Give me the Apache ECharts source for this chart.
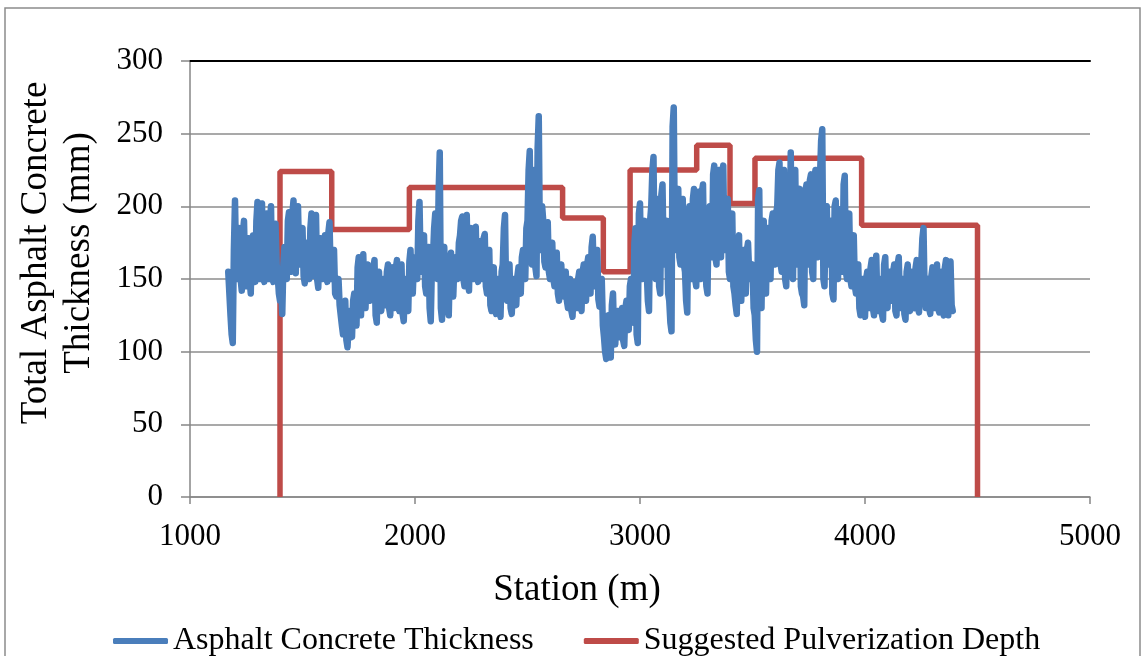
<!DOCTYPE html>
<html lang="en">
<head>
    <meta charset="UTF-8">
    <title>Asphalt Concrete Thickness</title>
    <script type="text/javascript" src="https://cdn.jsdelivr.net/npm/echarts@6/dist/echarts.min.js"></script>
    <style>
        html, body { margin: 0; padding: 0; background: #fff; }
        #main { width: 1143px; height: 656px; }
    </style>
</head>
<body>
<div id="main"></div>
<script type="text/javascript">
    // AC thickness, one reading every 5 m from station 1170
    var stationStart = 1170;
    var stationStep = 5;
    var thickness = [
        155,140,125,112,106,170,204,160,150,176,185,150,142,182,190,155,145,168,178,150,
        140,172,180,152,148,190,203,158,150,195,202,152,148,185,195,160,150,188,200,152,
        148,176,188,160,152,140,135,150,126,160,172,158,150,190,196,160,155,195,204,162,
        154,190,200,165,160,180,185,152,147,168,175,155,150,185,195,158,152,186,194,150,
        144,170,178,155,150,175,180,152,148,182,189,155,150,165,170,140,138,145,150,132,
        125,118,112,128,135,108,103,120,128,115,110,135,140,122,118,158,165,130,125,160,
        167,138,130,155,160,140,135,148,150,158,163,125,120,150,155,132,128,145,150,135,
        132,155,160,130,125,152,158,135,130,158,163,132,128,155,160,126,121,145,150,130,
        128,162,170,145,140,160,165,155,150,190,203,160,155,175,180,145,140,165,172,130,
        121,158,165,185,195,155,150,210,237,130,122,165,172,145,140,130,125,160,168,142,
        138,160,165,155,150,175,180,190,193,150,145,188,194,148,142,180,185,155,150,182,
        186,152,148,172,176,155,150,178,181,145,140,165,170,132,128,152,158,130,126,145,
        150,128,124,155,160,185,194,140,135,155,160,130,126,145,150,136,132,152,158,142,
        140,165,170,155,150,185,190,225,238,165,160,215,225,158,152,240,262,175,170,200,
        190,162,158,182,189,155,150,170,175,150,145,162,168,140,135,155,160,142,138,152,
        155,135,130,145,150,128,124,142,148,134,130,150,155,132,128,155,160,138,135,160,
        165,145,140,172,179,150,145,165,170,136,131,145,150,118,110,100,95,118,125,102,
        96,132,140,110,105,124,128,113,110,126,130,108,104,130,135,118,115,145,150,125,
        120,175,185,112,106,195,202,155,150,185,190,160,155,135,128,190,200,225,234,158,
        150,198,205,145,140,208,215,165,160,185,190,140,135,120,114,255,268,175,170,205,
        212,165,160,200,205,160,155,135,127,195,200,155,150,205,212,150,145,205,210,155,
        150,210,215,165,160,145,140,195,200,170,165,222,228,165,160,220,225,170,165,222,
        228,175,170,200,205,155,150,190,195,145,140,132,126,175,180,140,135,165,170,145,
        140,170,175,155,150,158,160,130,125,108,100,205,211,135,130,185,190,145,140,180,
        185,155,150,190,195,165,160,195,200,225,230,160,155,220,225,150,145,210,215,170,
        237,155,150,220,225,165,160,208,212,145,140,138,132,210,215,165,160,218,222,155,
        150,220,225,170,165,215,220,245,253,150,145,195,200,165,160,185,190,140,136,200,
        204,155,150,193,198,160,155,215,221,155,150,190,195,150,145,175,180,145,140,155,
        160,130,125,145,150,128,124,150,155,134,130,158,163,130,125,160,166,132,128,146,
        150,126,122,160,165,134,130,150,155,138,135,155,160,128,125,160,165,134,130,145,
        150,126,122,155,160,132,128,150,155,133,130,158,163,130,127,155,160,178,185,140,
        130,145,150,130,126,152,158,134,130,155,160,130,127,150,155,128,125,158,163,130,
        125,155,162,132,128
    ];

    // suggested pulverization depth (step line corners)
    var depthStation = [1400,1400,1630,1630,1975,1975,2656,2656,2837,2837,2956,2956,3252,3252,3400,3400,3511,3511,3985,3985,4500,4500];
    var depthValue   = [0,224,224,184,184,213,213,192,192,155,155,225,225,242,242,202,202,233,233,187,187,0];

    var xTicks = [1000, 2000, 3000, 4000, 5000];
    var yTicks = [0, 50, 100, 150, 200, 250, 300];

    var blueData = [];
    for (var i = 0; i < thickness.length; i++) {
        blueData.push([stationStart + i * stationStep, thickness[i]]);
    }
    var redData = [];
    for (var j = 0; j < depthStation.length; j++) {
        redData.push([depthStation[j], depthValue[j]]);
    }

    var font = '"Liberation Serif", "Times New Roman", serif';
    var myChart = echarts.init(document.getElementById('main'));
    var option = {
        backgroundColor: '#fff',
        animation: false,
        grid: { left: 190, right: 53, top: 61, bottom: 159 },
        legend: {
            data: ['Asphalt Concrete Thickness', 'Suggested Pulverization Depth'],
            left: 108,
            top: 620,
            icon: 'roundRect',
            itemWidth: 55,
            itemHeight: 6,
            itemGap: 50,
            textStyle: { fontFamily: font, fontSize: 32, color: '#000' }
        },
        xAxis: [
            {
                type: 'value',
                min: xTicks[0],
                max: xTicks[xTicks.length - 1],
                interval: 1000,
                axisLine: { lineStyle: { color: '#868686', width: 1.5 } },
                axisTick: { show: true, length: 7, lineStyle: { color: '#868686', width: 1.5 } },
                axisLabel: {
                    margin: 24, fontFamily: font, fontSize: 31, color: '#000',
                    formatter: function (v) { return String(v); }
                },
                splitLine: { show: false }
            },
            {
                // black border at the top of the plot
                type: 'value',
                position: 'top',
                min: xTicks[0],
                max: xTicks[xTicks.length - 1],
                axisLine: { show: true, lineStyle: { color: '#000', width: 2 } },
                axisTick: { show: false },
                axisLabel: { show: false },
                splitLine: { show: false }
            }
        ],
        yAxis: {
            type: 'value',
            min: yTicks[0],
            max: yTicks[yTicks.length - 1],
            interval: 50,
            axisLine: { show: true, lineStyle: { color: '#868686', width: 1.5 } },
            axisTick: { show: true, length: 9, lineStyle: { color: '#868686', width: 1.5 } },
            axisLabel: { margin: 27, fontFamily: font, fontSize: 31, color: '#000' },
            splitLine: { show: true, lineStyle: { color: '#8c8c8c', width: 1.5 } }
        },
        graphic: [
            {
                type: 'rect',
                shape: { x: 5, y: 8, width: 1135, height: 660 },
                style: { fill: 'none', stroke: '#8c8c8c', lineWidth: 1.5 },
                silent: true
            },
            {
                type: 'text',
                x: 58,
                y: 253,
                rotation: Math.PI / 2,
                style: {
                    text: 'Total Asphalt Concrete\nThickness (mm)',
                    fontFamily: font,
                    fontSize: 37,
                    lineHeight: 43,
                    fill: '#000',
                    align: 'center',
                    verticalAlign: 'middle'
                }
            },
            {
                type: 'text',
                x: 577,
                y: 590,
                style: {
                    text: 'Station (m)',
                    fontFamily: font,
                    fontSize: 37,
                    fill: '#000',
                    align: 'center',
                    verticalAlign: 'middle'
                }
            }
        ],
        series: [
            {
                name: 'Asphalt Concrete Thickness',
                type: 'line',
                data: blueData,
                showSymbol: false,
                symbol: 'none',
                z: 3,
                color: '#4a7ebb',
                lineStyle: { color: '#4a7ebb', width: 6.5, join: 'round', cap: 'round' },
                emphasis: { disabled: true }
            },
            {
                name: 'Suggested Pulverization Depth',
                type: 'line',
                data: redData,
                showSymbol: false,
                symbol: 'none',
                z: 2,
                color: '#be4b48',
                lineStyle: { color: '#be4b48', width: 5.5 },
                emphasis: { disabled: true }
            }
        ]
    };
    myChart.setOption(option);
</script>
</body>
</html>
